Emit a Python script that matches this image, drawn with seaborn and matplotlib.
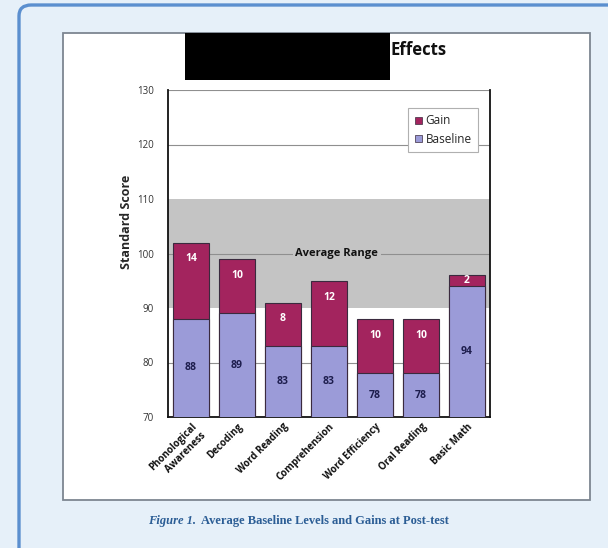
import matplotlib
matplotlib.use("Agg")
import matplotlib.pyplot as plt
import seaborn as sns
import pandas as pd
from matplotlib.patches import Rectangle, FancyBboxPatch, Patch

# Data
categories = ["Phonological\nAwareness", "Decoding", "Word Reading", "Comprehension",
              "Word Efficiency", "Oral Reading", "Basic Math"]
baseline = [88, 89, 83, 83, 78, 78, 94]
gain = [14, 10, 8, 12, 10, 10, 2]
y_ticks = [70, 80, 90, 100, 110, 120, 130]

baseline_color = "#9b9bd8"
gain_color = "#a3245e"
band_color = "#c4c4c4"
edge_color = "#3a2a3e"

sns.set_theme(style="white")
plt.rcParams["font.family"] = ["Open Sans", "DejaVu Sans"]

df = pd.DataFrame({"category": categories, "baseline": baseline, "gain": gain})
df["total"] = df["baseline"] + df["gain"]

W, H = 608, 548
fig = plt.figure(figsize=(W / 100, H / 100), dpi=100)
fig.patch.set_facecolor("#e6f0f9")

def px(x0, y0, x1, y1):
    """Rectangle in pixel coordinates (origin top-left) -> figure fraction."""
    return (x0 / W, 1 - y1 / H, (x1 - x0) / W, (y1 - y0) / H)

# Outer rounded frame (runs off the right and bottom edges)
bx, by, bw, bh = px(19, 5, 900, 900)
fig.patches.append(FancyBboxPatch((bx, by), bw, bh, boxstyle="round,pad=0,rounding_size=0.02",
                                  transform=fig.transFigure, facecolor="#e6f0f9",
                                  edgecolor="#5b8fcf", linewidth=2.4, zorder=0))
# White chart panel
px0, py0, pw, ph = px(63, 33, 590, 500)
fig.patches.append(Rectangle((px0, py0), pw, ph, transform=fig.transFigure,
                             facecolor="white", edgecolor="#7d8691", linewidth=1.3, zorder=1))

ax = fig.add_axes(px(168, 90, 490, 417))
ax.set_facecolor("white")
ax.set_zorder(2)

# Average range band and gridlines
ax.axhspan(90, 110, color=band_color, zorder=0, lw=0)
for yv in [80, 100, 120, 130]:
    ax.axhline(yv, color="#8f8f8f", lw=0.8, zorder=0.5)

# Stacked bars: total (gain colour) then baseline on top
sns.barplot(data=df, x="category", y="total", color=gain_color, saturation=1,
            width=0.8, edgecolor=edge_color, linewidth=0.8, ax=ax, zorder=2)
sns.barplot(data=df, x="category", y="baseline", color=baseline_color, saturation=1,
            width=0.8, edgecolor=edge_color, linewidth=0.8, ax=ax, zorder=3)

ax.set_ylim(70, 130)
ax.set_xlim(-0.5, len(categories) - 0.5)
ax.set_yticks(y_ticks)
ax.set_yticklabels([str(v) for v in y_ticks], fontsize=7, color="#333333")
ax.tick_params(axis="y", length=0, pad=10)
ax.tick_params(axis="x", length=0, pad=3)
ax.set_xticks(range(len(categories)))
ax.set_xticklabels(categories, rotation=45, ha="right", rotation_mode="anchor",
                   fontsize=7, fontweight="bold", color="#111111")
ax.set_xlabel("")
ax.set_ylabel("Standard Score", fontsize=9, fontweight="bold")
ax.yaxis.set_label_coords(-0.108, 0.596)

for side in ["left", "right", "bottom"]:
    ax.spines[side].set_color("#111111")
    ax.spines[side].set_linewidth(1.3)
ax.spines["top"].set_visible(False)

# Value labels
for i, (b, g) in enumerate(zip(baseline, gain)):
    ax.text(i, (70 + b) / 2, str(b), ha="center", va="center", fontsize=7.5,
            fontweight="bold", color="#1d1d4d", zorder=5)
    ax.text(i, b + g - 3 if g > 3 else b + g / 2, str(g), ha="center", va="center",
            fontsize=7.5, fontweight="bold", color="white", zorder=5)

ax.text(3.17, 100, "Average Range", ha="center", va="center", fontsize=8,
        fontweight="bold", color="#111111", zorder=1,
        bbox=dict(facecolor=band_color, edgecolor="none", pad=2))

# Legend
handles = [Patch(facecolor=gain_color, edgecolor=edge_color, lw=0.5, label="Gain"),
           Patch(facecolor=baseline_color, edgecolor=edge_color, lw=0.5, label="Baseline")]
leg = ax.legend(handles=handles, loc="upper right", bbox_to_anchor=(0.963, 0.945),
                borderaxespad=0, fontsize=8.5, frameon=True, fancybox=False,
                handlelength=0.6, handleheight=0.6, handletextpad=0.3, borderpad=0.55,
                labelspacing=0.45, edgecolor="#b0b0b0", framealpha=1)
leg.get_frame().set_linewidth(0.8)
leg.set_zorder(6)

# Title with redaction block
fig.patches.append(Rectangle(px(185, 33, 390, 80)[:2], (390 - 185) / W, (80 - 33) / H,
                             transform=fig.transFigure, facecolor="black",
                             edgecolor="none", zorder=3))
fig.text(391 / W, 1 - 50 / H, "Effects", ha="left", va="center", fontsize=12,
         fontweight="bold", color="#111111", zorder=4)

# Caption
cap_color = "#2b5d95"
serif = ["Liberation Serif", "DejaVu Serif"]
t1 = fig.text(148 / W, 1 - 521 / H, "Figure 1.", ha="left", va="center", fontsize=9,
              fontstyle="italic", fontweight="bold", family=serif, color=cap_color)
fig.canvas.draw()
bb = t1.get_window_extent()
fig.text((bb.x1 + 5) / W, 1 - 521 / H, "Average Baseline Levels and Gains at Post-test",
         ha="left", va="center", fontsize=9, fontweight="bold", family=serif, color=cap_color)

fig.savefig("out.png", dpi=100, facecolor=fig.get_facecolor())
